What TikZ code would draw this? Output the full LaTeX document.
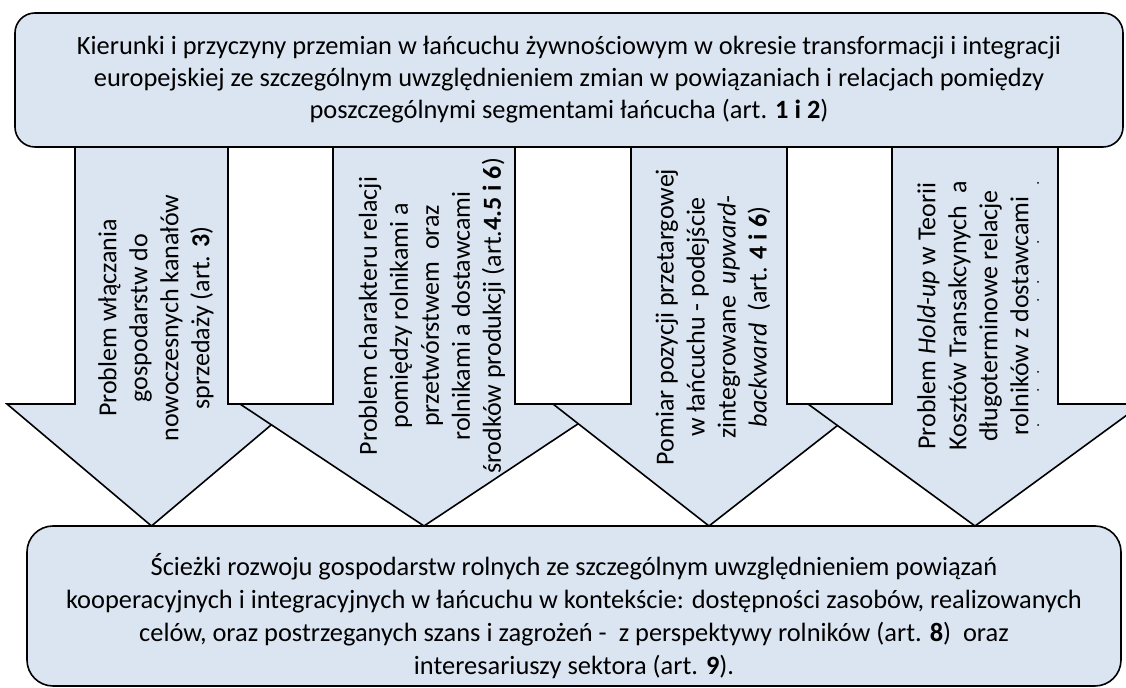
\documentclass[tikz,border=0pt]{standalone}
\usepackage{fontspec}
\setmainfont{Carlito}
\definecolor{jasnyniebieski}{HTML}{DBE5F1}
\tikzset{
  strzalka/.style={fill=jasnyniebieski, draw=black, line width=0.8pt, line join=miter},
  ramka/.style={fill=jasnyniebieski, draw=black, line width=0.8pt,
    inner sep=0pt, align=center, font=\fontsize{13.2}{16}\selectfont},
  tekst/.style={inner sep=0pt, align=center, font=\fontsize{13.2}{16.5}\selectfont},
  opis/.style={rotate=90, align=center, inner sep=0pt,
    font=\fontsize{13}{15.5}\selectfont}
}
\begin{document}
\begin{tikzpicture}[x=0.5pt,y=-0.5pt]
\useasboundingbox (0,0) rectangle (1126,688);

% strzalki
\path[strzalka]
  (75,100) -- (75,404) -- (7,404) -- (151.5,526)
  -- (296,404) -- (228,404) -- (228,100) -- cycle;
\node[opis] (art3) at (156,318)
  {Problem włączania\\ gospodarstw do\\ nowoczesnych kanałów\\ sprzedaży (art. \textbf{3})};

\path[strzalka]
  (333,100) -- (333,404) -- (240,404) -- (424,526)
  -- (608,404) -- (515,404) -- (515,100) -- cycle;
\node[opis] (art456) at (432,316)
  {Problem charakteru relacji\\ pomiędzy rolnikami a\\ przetwórstwem\ \ oraz\\
   rolnikami a dostawcami\\ środków produkcji (art.\textbf{4.5 i 6})};

\path[strzalka]
  (631,100) -- (631,404) -- (553,404) -- (709,526)
  -- (865,404) -- (787,404) -- (787,100) -- cycle;
\node[opis] (art46) at (713,317)
  {Pomiar pozycji przetargowej\\ w łańcuchu - podejście\\
   zintegrowane\ \ \textit{upward-}\\ \textit{backward}\ \ (art. \textbf{4 i 6})};

\path[strzalka]
  (892,100) -- (892,404) -- (808,404) -- (975,526)
  -- (1142,404) -- (1058,404) -- (1058,100) -- cycle;
\node[opis] (holdup) at (973,316)
  {Problem \textit{Hold-up} w Teorii\\ Kosztów Transakcynych\ \ a\\
   długoterminowe relacje\\ rolników z dostawcami};
\foreach \y in {183,242,282,300,372,390,425}
  \fill (1038,\y) circle (1);

% ramki
\node[ramka, rounded corners=10pt, minimum width=554pt, minimum height=67pt]
  (kierunki) at (569,80)
  {Kierunki i przyczyny przemian w łańcuchu żywnościowym w okresie transformacji i integracji\\
   europejskiej ze szczególnym uwzględnieniem zmian w powiązaniach i relacjach pomiędzy\\
   poszczególnymi segmentami łańcucha (art. \textbf{1 i 2})};

\node[ramka, rounded corners=13pt, minimum width=547pt, minimum height=80pt]
  (sciezki) at (574,606) {};
\node[tekst] (sciezkiopis) at ([yshift=-5pt]sciezki.center)
  {Ścieżki rozwoju gospodarstw rolnych ze szczególnym uwzględnieniem powiązań\\
   kooperacyjnych i integracyjnych w łańcuchu w kontekście: dostępności zasobów, realizowanych\\
   celów, oraz postrzeganych szans i zagrożeń -\ \ z perspektywy rolników (art. \textbf{8})\ \ oraz\\
   interesariuszy sektora (art. \textbf{9}).};
\end{tikzpicture}
\end{document}
